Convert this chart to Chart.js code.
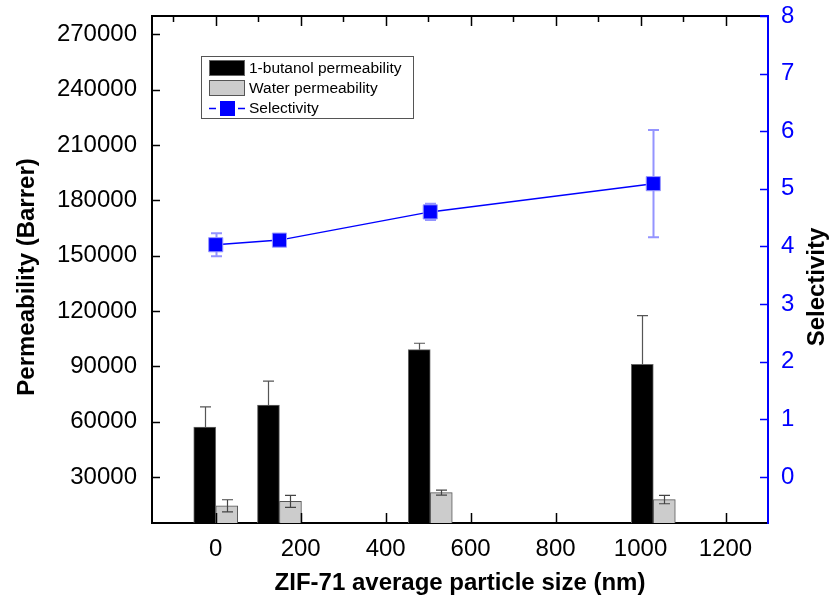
<!DOCTYPE html>
<html>
<head>
<meta charset="utf-8">
<script src="https://cdn.jsdelivr.net/npm/chart.js"></script>
<style>
  html, body { margin: 0; padding: 0; background: #fff; }
  #wrap { width: 831px; height: 607px; }
</style>
</head>
<body>
<div id="wrap"><canvas id="chart" width="831" height="607"></canvas></div>
<script>
// particle size (nm) and measured values
const sizes = [0, 150, 505, 1030];
const butanolPerm = [57000, 69000, 99000, 91000];
const butanolErr = [11000, 13000, 3500, 26500];
const waterPerm = [14300, 16700, 21500, 17700];
const waterErr = [3300, 3250, 1350, 2250];
const selectivity = [4.03, 4.11, 4.60, 5.09];
const selectivityErr = [0.2, 0.05, 0.14, 0.93];

// axis ticks
const xTicks = [0, 200, 400, 600, 800, 1000, 1200];
const permTicks = [30000, 60000, 90000, 120000, 150000, 180000, 210000, 240000, 270000];
const selTicks = [0, 1, 2, 3, 4, 5, 6, 7, 8];

const FONT = "'Liberation Sans', Arial, sans-serif";
const BLUE = '#0000ff';

const pts = arr => sizes.map((x, i) => ({ x: x, y: arr[i] }));

// draws error bars for datasets that carry an err array
const errorBars = {
    id: 'errorBars',
    drawFor(chart, type) {
        const ctx = chart.ctx;
        chart.data.datasets.forEach((ds, di) => {
            if (!ds.err || ds.type !== type) return;
            const meta = chart.getDatasetMeta(di);
            const yScale = chart.scales[meta.yAxisID];
            ctx.save();
            ctx.strokeStyle = ds.errColor;
            ctx.lineWidth = ds.errWidth;
            meta.data.forEach((el, i) => {
                const v = ds.data[i].y;
                const e = ds.err[i];
                const top = yScale.getPixelForValue(v + e);
                const bot = ds.errUpOnly ? yScale.getPixelForValue(v) : yScale.getPixelForValue(v - e);
                const x = Math.round(el.x) + 0.5;
                ctx.beginPath();
                ctx.moveTo(x, top);
                ctx.lineTo(x, bot);
                ctx.moveTo(x - 5.5, top);
                ctx.lineTo(x + 5.5, top);
                if (!ds.errUpOnly) {
                    ctx.moveTo(x - 5.5, bot);
                    ctx.lineTo(x + 5.5, bot);
                }
                ctx.stroke();
            });
            ctx.restore();
        });
    },
    beforeDatasetsDraw(chart) { this.drawFor(chart, 'line'); },
    afterDatasetsDraw(chart) { this.drawFor(chart, 'bar'); }
};

// frame, inward ticks, axis titles and the boxed legend
const decorations = {
    id: 'decorations',
    afterDraw(chart) {
        const ctx = chart.ctx;
        const a = chart.chartArea;
        const xs = chart.scales.x, yl = chart.scales.y, yr = chart.scales.y2;
        ctx.save();

        // top frame line
        ctx.strokeStyle = '#000';
        ctx.lineWidth = 2;
        ctx.beginPath();
        ctx.moveTo(a.left, a.top);
        ctx.lineTo(a.right - 8, a.top);
        ctx.stroke();
        ctx.strokeStyle = BLUE;
        ctx.beginPath();
        ctx.moveTo(a.right - 8, a.top);
        ctx.lineTo(a.right, a.top);
        ctx.stroke();

        // x ticks: bottom major, top major + minor
        ctx.strokeStyle = '#000';
        ctx.lineWidth = 1.5;
        ctx.beginPath();
        xTicks.forEach(v => {
            const x = Math.round(xs.getPixelForValue(v)) + 0.5;
            ctx.moveTo(x, a.bottom);
            ctx.lineTo(x, a.bottom - 10);
            ctx.moveTo(x, a.top);
            ctx.lineTo(x, a.top + 10);
            const xm = Math.round(xs.getPixelForValue(v - 100)) + 0.5;
            ctx.moveTo(xm, a.top);
            ctx.lineTo(xm, a.top + 6);
        });
        permTicks.forEach(v => {
            const y = Math.round(yl.getPixelForValue(v)) + 0.5;
            ctx.moveTo(a.left, y);
            ctx.lineTo(a.left + 8, y);
        });
        ctx.stroke();

        ctx.strokeStyle = BLUE;
        ctx.beginPath();
        selTicks.forEach(v => {
            const y = Math.round(yr.getPixelForValue(v)) + 0.5;
            ctx.moveTo(a.right, y);
            ctx.lineTo(a.right - 8, y);
        });
        ctx.stroke();

        // axis titles
        ctx.fillStyle = '#000';
        ctx.font = 'bold 24px ' + FONT;
        ctx.textAlign = 'center';
        ctx.textBaseline = 'middle';
        ctx.fillText('ZIF-71 average particle size (nm)', (a.left + a.right) / 2, 583);
        ctx.save();
        ctx.translate(27, 277);
        ctx.rotate(-Math.PI / 2);
        ctx.fillText('Permeability (Barrer)', 0, 0);
        ctx.restore();
        ctx.save();
        ctx.translate(817, 287);
        ctx.rotate(-Math.PI / 2);
        ctx.fillText('Selectivity', 0, 0);
        ctx.restore();

        // legend
        ctx.strokeStyle = '#555';
        ctx.lineWidth = 1;
        ctx.strokeRect(201.5, 56.5, 212, 62);
        ctx.fillStyle = '#000';
        ctx.fillRect(209, 60, 36, 16);
        ctx.strokeStyle = '#666';
        ctx.strokeRect(209.5, 60.5, 35, 15);
        ctx.fillStyle = '#cccccc';
        ctx.fillRect(209, 80, 36, 16);
        ctx.strokeStyle = '#555';
        ctx.strokeRect(209.5, 80.5, 35, 15);
        ctx.strokeStyle = BLUE;
        ctx.lineWidth = 1.5;
        ctx.beginPath();
        ctx.moveTo(209, 108.5); ctx.lineTo(216, 108.5);
        ctx.moveTo(238, 108.5); ctx.lineTo(245, 108.5);
        ctx.stroke();
        ctx.fillStyle = BLUE;
        ctx.fillRect(220, 101, 15, 15);
        ctx.fillStyle = '#000';
        ctx.font = '15.5px ' + FONT;
        ctx.textAlign = 'left';
        ctx.fillText('1-butanol permeability', 249, 68.5);
        ctx.fillText('Water permeability', 249, 88.5);
        ctx.fillText('Selectivity', 249, 108.5);

        ctx.restore();
    }
};

// fixed axis box sizes so the plot area sits where the reference has it
const fixWidth = w => s => { s.width = w; s.paddingTop = 0; s.paddingBottom = 0; };

new Chart(document.getElementById('chart'), {
    type: 'bar',
    data: {
        datasets: [
            {
                type: 'line',
                label: 'Selectivity',
                data: pts(selectivity),
                err: selectivityErr,
                errColor: 'rgba(60, 60, 255, 0.55)',
                errWidth: 2,
                yAxisID: 'y2',
                borderColor: BLUE,
                borderWidth: 1.5,
                pointStyle: 'rect',
                pointRadius: 10,
                pointBackgroundColor: BLUE,
                pointBorderColor: '#9a9aff',
                pointBorderWidth: 1,
                tension: 0,
                clip: false
            },
            {
                type: 'bar',
                label: '1-butanol permeability',
                data: pts(butanolPerm),
                err: butanolErr,
                errUpOnly: true,
                errColor: '#555',
                errWidth: 1.2,
                yAxisID: 'y',
                backgroundColor: '#000',
                borderColor: '#666',
                borderWidth: 1,
                barThickness: 22
            },
            {
                type: 'bar',
                label: 'Water permeability',
                data: pts(waterPerm),
                err: waterErr,
                errColor: '#444',
                errWidth: 1.2,
                yAxisID: 'y',
                backgroundColor: '#cccccc',
                borderColor: '#555',
                borderWidth: 1,
                barThickness: 22
            }
        ]
    },
    options: {
        responsive: false,
        animation: false,
        devicePixelRatio: 1,
        layout: { padding: { top: 16, left: 0, right: 0, bottom: 0 } },
        plugins: {
            legend: { display: false },
            tooltip: { enabled: false }
        },
        scales: {
            x: {
                type: 'linear',
                offset: false,
                min: -150,
                max: 1300,
                afterBuildTicks: s => { s.ticks = xTicks.map(v => ({ value: v })); },
                afterFit: s => { s.height = 84; s.paddingLeft = 0; s.paddingRight = 0; },
                grid: { display: false, drawTicks: false },
                border: { display: true, color: '#000', width: 2 },
                ticks: {
                    padding: 12,
                    color: '#000',
                    font: { family: FONT, size: 24 },
                    maxRotation: 0,
                    callback: v => String(v)
                }
            },
            y: {
                position: 'left',
                min: 5000,
                max: 280000,
                afterBuildTicks: s => { s.ticks = permTicks.map(v => ({ value: v })); },
                afterFit: fixWidth(152),
                grid: { display: false, drawTicks: false },
                border: { display: true, color: '#000', width: 2 },
                ticks: {
                    padding: 15,
                    color: '#000',
                    font: { family: FONT, size: 24 },
                    callback: v => String(v)
                }
            },
            y2: {
                position: 'right',
                min: -0.8,
                max: 8,
                afterBuildTicks: s => { s.ticks = selTicks.map(v => ({ value: v })); },
                afterFit: fixWidth(63),
                grid: { display: false, drawTicks: false },
                border: { display: true, color: BLUE, width: 2 },
                ticks: {
                    padding: 13,
                    color: BLUE,
                    font: { family: FONT, size: 24 },
                    callback: v => String(v)
                }
            }
        }
    },
    plugins: [errorBars, decorations]
});
</script>
</body>
</html>
